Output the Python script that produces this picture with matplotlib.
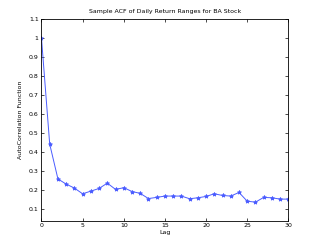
import matplotlib
matplotlib.use("Agg")
import matplotlib.pyplot as plt

lags = list(range(0, 31))
acf = [1.0, 0.442, 0.259, 0.232, 0.211, 0.181, 0.195, 0.209, 0.237, 0.204,
       0.213, 0.193, 0.183, 0.156, 0.162, 0.169, 0.169, 0.169, 0.155, 0.160,
       0.167, 0.181, 0.172, 0.169, 0.188, 0.142, 0.137, 0.162, 0.160, 0.153, 0.153]
xticks = [0, 5, 10, 15, 20, 25, 30]
yticks = [0.1, 0.2, 0.3, 0.4, 0.5, 0.6, 0.7, 0.8, 0.9, 1.0, 1.1]
yticklabels = ["0.1", "0.2", "0.3", "0.4", "0.5", "0.6", "0.7", "0.8", "0.9", "1", "1.1"]

fig = plt.figure(figsize=(3.19, 2.49), dpi=100)
ax = fig.add_axes([0.130, 0.114, 0.774, 0.810])
ax.plot(lags, acf, color="#4a5cff", lw=0.7, marker="*", ms=3, mew=0.6)
ax.set_xlim(0, 30)
ax.set_ylim(0.04, 1.1)
ax.set_xticks(xticks)
ax.set_yticks(yticks)
ax.set_yticklabels(yticklabels)
ax.tick_params(direction="in", top=True, right=True, labelsize=4.5, length=2, width=0.5, pad=2)
for s in ax.spines.values():
    s.set_linewidth(0.6)
ax.set_title("Sample ACF of Daily Return Ranges for BA Stock", fontsize=4.5, pad=4)
ax.set_xlabel("Lag", fontsize=4.5, labelpad=1)
ax.set_ylabel("AutoCorrelation Function", fontsize=4.5, labelpad=4)
fig.savefig("out.png", dpi=100)
